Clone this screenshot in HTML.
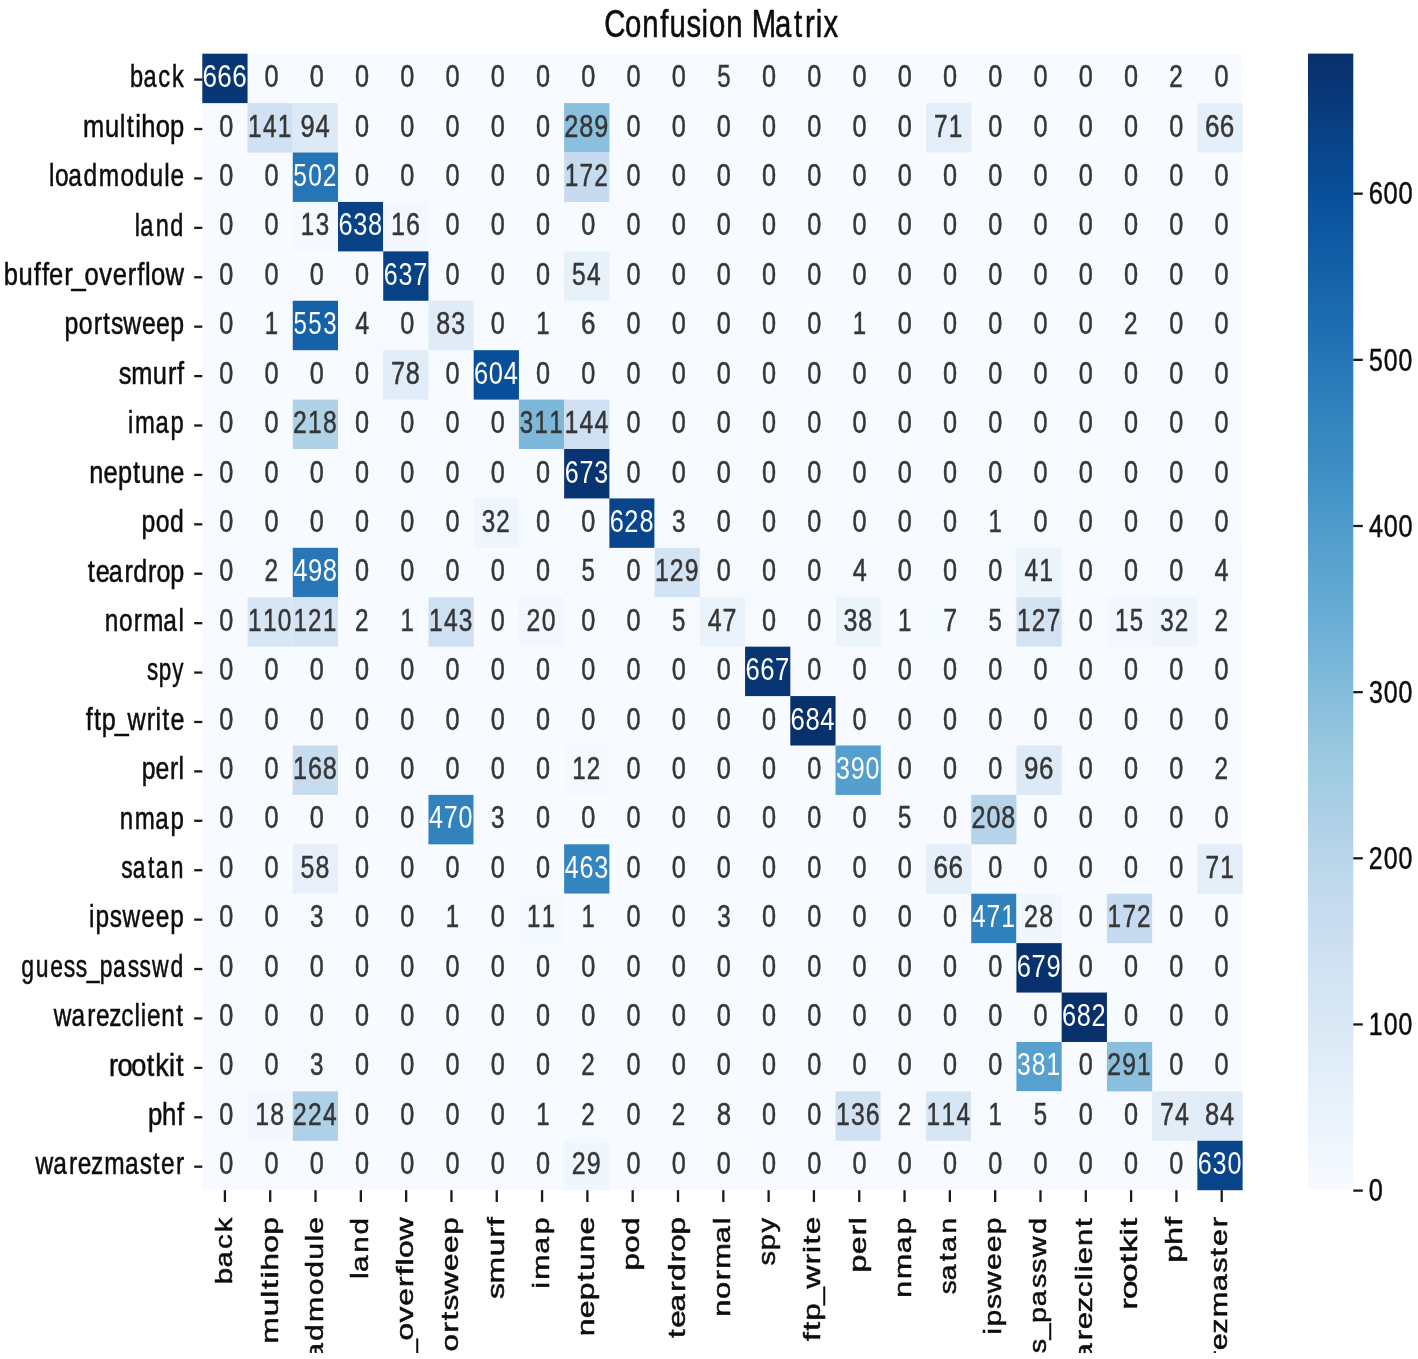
<!DOCTYPE html>
<html><head><meta charset="utf-8"><title>Confusion Matrix</title>
<style>
html,body{margin:0;padding:0;background:#fff;}
body{width:1418px;height:1359px;overflow:hidden;font-family:"Liberation Sans",sans-serif;}
svg{display:block;filter:blur(0.7px);}
</style></head><body>
<svg width="1418" height="1359" viewBox="0 0 1418 1359" font-family="Liberation Sans, sans-serif">
<rect x="0" y="0" width="1418" height="1359" fill="#ffffff"/>
<rect x="202.30" y="53.70" width="1040.30" height="1136.50" fill="#f7fbff"/>
<rect x="202.30" y="53.70" width="45.25" height="49.43" fill="#083674"/>
<rect x="699.83" y="53.70" width="45.25" height="49.43" fill="#f6faff"/>
<rect x="1152.14" y="53.70" width="45.25" height="49.43" fill="#f7fbff"/>
<rect x="247.53" y="103.11" width="45.25" height="49.43" fill="#cfe1f2"/>
<rect x="292.76" y="103.11" width="45.25" height="49.43" fill="#dce9f6"/>
<rect x="564.14" y="103.11" width="45.25" height="49.43" fill="#8abfdd"/>
<rect x="925.99" y="103.11" width="45.25" height="49.43" fill="#e3eef8"/>
<rect x="1197.37" y="103.11" width="45.25" height="49.43" fill="#e4eff9"/>
<rect x="292.76" y="152.53" width="45.25" height="49.43" fill="#2575b7"/>
<rect x="564.14" y="152.53" width="45.25" height="49.43" fill="#c6dbef"/>
<rect x="292.76" y="201.94" width="45.25" height="49.43" fill="#f4f9fe"/>
<rect x="337.99" y="201.94" width="45.25" height="49.43" fill="#084285"/>
<rect x="383.22" y="201.94" width="45.25" height="49.43" fill="#f3f8fe"/>
<rect x="383.22" y="251.35" width="45.25" height="49.43" fill="#084285"/>
<rect x="564.14" y="251.35" width="45.25" height="49.43" fill="#e7f1fa"/>
<rect x="247.53" y="300.77" width="45.25" height="49.43" fill="#f7fbff"/>
<rect x="292.76" y="300.77" width="45.25" height="49.43" fill="#1562a9"/>
<rect x="337.99" y="300.77" width="45.25" height="49.43" fill="#f6faff"/>
<rect x="428.45" y="300.77" width="45.25" height="49.43" fill="#dfebf7"/>
<rect x="518.91" y="300.77" width="45.25" height="49.43" fill="#f7fbff"/>
<rect x="564.14" y="300.77" width="45.25" height="49.43" fill="#f5fafe"/>
<rect x="835.53" y="300.77" width="45.25" height="49.43" fill="#f7fbff"/>
<rect x="1106.91" y="300.77" width="45.25" height="49.43" fill="#f7fbff"/>
<rect x="383.22" y="350.18" width="45.25" height="49.43" fill="#e0ecf8"/>
<rect x="473.68" y="350.18" width="45.25" height="49.43" fill="#084e98"/>
<rect x="292.76" y="399.59" width="45.25" height="49.43" fill="#b0d2e7"/>
<rect x="518.91" y="399.59" width="45.25" height="49.43" fill="#7db8da"/>
<rect x="564.14" y="399.59" width="45.25" height="49.43" fill="#cee0f2"/>
<rect x="564.14" y="449.00" width="45.25" height="49.43" fill="#083471"/>
<rect x="473.68" y="498.42" width="45.25" height="49.43" fill="#eef5fc"/>
<rect x="609.37" y="498.42" width="45.25" height="49.43" fill="#08458a"/>
<rect x="654.60" y="498.42" width="45.25" height="49.43" fill="#f6faff"/>
<rect x="971.22" y="498.42" width="45.25" height="49.43" fill="#f7fbff"/>
<rect x="247.53" y="547.83" width="45.25" height="49.43" fill="#f7fbff"/>
<rect x="292.76" y="547.83" width="45.25" height="49.43" fill="#2676b8"/>
<rect x="564.14" y="547.83" width="45.25" height="49.43" fill="#f6faff"/>
<rect x="654.60" y="547.83" width="45.25" height="49.43" fill="#d2e3f3"/>
<rect x="835.53" y="547.83" width="45.25" height="49.43" fill="#f6faff"/>
<rect x="1016.45" y="547.83" width="45.25" height="49.43" fill="#ebf3fb"/>
<rect x="1197.37" y="547.83" width="45.25" height="49.43" fill="#f6faff"/>
<rect x="247.53" y="597.24" width="45.25" height="49.43" fill="#d7e6f5"/>
<rect x="292.76" y="597.24" width="45.25" height="49.43" fill="#d4e4f4"/>
<rect x="337.99" y="597.24" width="45.25" height="49.43" fill="#f7fbff"/>
<rect x="383.22" y="597.24" width="45.25" height="49.43" fill="#f7fbff"/>
<rect x="428.45" y="597.24" width="45.25" height="49.43" fill="#cee0f2"/>
<rect x="518.91" y="597.24" width="45.25" height="49.43" fill="#f2f7fd"/>
<rect x="654.60" y="597.24" width="45.25" height="49.43" fill="#f6faff"/>
<rect x="699.83" y="597.24" width="45.25" height="49.43" fill="#eaf2fb"/>
<rect x="835.53" y="597.24" width="45.25" height="49.43" fill="#ecf4fb"/>
<rect x="880.76" y="597.24" width="45.25" height="49.43" fill="#f7fbff"/>
<rect x="925.99" y="597.24" width="45.25" height="49.43" fill="#f5fafe"/>
<rect x="971.22" y="597.24" width="45.25" height="49.43" fill="#f6faff"/>
<rect x="1016.45" y="597.24" width="45.25" height="49.43" fill="#d3e3f3"/>
<rect x="1106.91" y="597.24" width="45.25" height="49.43" fill="#f3f8fe"/>
<rect x="1152.14" y="597.24" width="45.25" height="49.43" fill="#eef5fc"/>
<rect x="1197.37" y="597.24" width="45.25" height="49.43" fill="#f7fbff"/>
<rect x="745.07" y="646.66" width="45.25" height="49.43" fill="#083674"/>
<rect x="790.30" y="696.07" width="45.25" height="49.43" fill="#08306b"/>
<rect x="292.76" y="745.48" width="45.25" height="49.43" fill="#c7dcef"/>
<rect x="564.14" y="745.48" width="45.25" height="49.43" fill="#f4f9fe"/>
<rect x="835.53" y="745.48" width="45.25" height="49.43" fill="#549fcd"/>
<rect x="1016.45" y="745.48" width="45.25" height="49.43" fill="#dce9f6"/>
<rect x="1197.37" y="745.48" width="45.25" height="49.43" fill="#f7fbff"/>
<rect x="428.45" y="794.90" width="45.25" height="49.43" fill="#3282be"/>
<rect x="473.68" y="794.90" width="45.25" height="49.43" fill="#f6faff"/>
<rect x="880.76" y="794.90" width="45.25" height="49.43" fill="#f6faff"/>
<rect x="971.22" y="794.90" width="45.25" height="49.43" fill="#b5d4e9"/>
<rect x="292.76" y="844.31" width="45.25" height="49.43" fill="#e7f0fa"/>
<rect x="564.14" y="844.31" width="45.25" height="49.43" fill="#3484bf"/>
<rect x="925.99" y="844.31" width="45.25" height="49.43" fill="#e4eff9"/>
<rect x="1197.37" y="844.31" width="45.25" height="49.43" fill="#e3eef8"/>
<rect x="292.76" y="893.72" width="45.25" height="49.43" fill="#f6faff"/>
<rect x="428.45" y="893.72" width="45.25" height="49.43" fill="#f7fbff"/>
<rect x="518.91" y="893.72" width="45.25" height="49.43" fill="#f4f9fe"/>
<rect x="564.14" y="893.72" width="45.25" height="49.43" fill="#f7fbff"/>
<rect x="699.83" y="893.72" width="45.25" height="49.43" fill="#f6faff"/>
<rect x="971.22" y="893.72" width="45.25" height="49.43" fill="#3181bd"/>
<rect x="1016.45" y="893.72" width="45.25" height="49.43" fill="#eff6fc"/>
<rect x="1106.91" y="893.72" width="45.25" height="49.43" fill="#c6dbef"/>
<rect x="1016.45" y="943.13" width="45.25" height="49.43" fill="#08316d"/>
<rect x="1061.68" y="992.55" width="45.25" height="49.43" fill="#08306b"/>
<rect x="292.76" y="1041.96" width="45.25" height="49.43" fill="#f6faff"/>
<rect x="564.14" y="1041.96" width="45.25" height="49.43" fill="#f7fbff"/>
<rect x="1016.45" y="1041.96" width="45.25" height="49.43" fill="#58a1cf"/>
<rect x="1106.91" y="1041.96" width="45.25" height="49.43" fill="#8abfdd"/>
<rect x="247.53" y="1091.37" width="45.25" height="49.43" fill="#f2f8fd"/>
<rect x="292.76" y="1091.37" width="45.25" height="49.43" fill="#aed1e7"/>
<rect x="518.91" y="1091.37" width="45.25" height="49.43" fill="#f7fbff"/>
<rect x="564.14" y="1091.37" width="45.25" height="49.43" fill="#f7fbff"/>
<rect x="654.60" y="1091.37" width="45.25" height="49.43" fill="#f7fbff"/>
<rect x="699.83" y="1091.37" width="45.25" height="49.43" fill="#f5fafe"/>
<rect x="835.53" y="1091.37" width="45.25" height="49.43" fill="#d0e2f2"/>
<rect x="880.76" y="1091.37" width="45.25" height="49.43" fill="#f7fbff"/>
<rect x="925.99" y="1091.37" width="45.25" height="49.43" fill="#d6e6f4"/>
<rect x="971.22" y="1091.37" width="45.25" height="49.43" fill="#f7fbff"/>
<rect x="1016.45" y="1091.37" width="45.25" height="49.43" fill="#f6faff"/>
<rect x="1152.14" y="1091.37" width="45.25" height="49.43" fill="#e2edf8"/>
<rect x="1197.37" y="1091.37" width="45.25" height="49.43" fill="#dfebf7"/>
<rect x="564.14" y="1140.79" width="45.25" height="49.43" fill="#eff6fc"/>
<rect x="1197.37" y="1140.79" width="45.25" height="49.43" fill="#08458a"/>
<g font-size="31" stroke-width="0.5">
<text transform="translate(202.38 87.21) scale(0.8408 1)" x="0.18 17.81 35.44" fill="#ffffff">666</text>
<text transform="translate(264.23 87.21) scale(0.8145 1)" x="0.40" fill="#363636" stroke="#363636">0</text>
<text transform="translate(309.46 87.21) scale(0.8145 1)" x="0.40" fill="#363636" stroke="#363636">0</text>
<text transform="translate(354.69 87.21) scale(0.8145 1)" x="0.40" fill="#363636" stroke="#363636">0</text>
<text transform="translate(399.92 87.21) scale(0.8145 1)" x="0.40" fill="#363636" stroke="#363636">0</text>
<text transform="translate(445.16 87.21) scale(0.8145 1)" x="0.40" fill="#363636" stroke="#363636">0</text>
<text transform="translate(490.39 87.21) scale(0.8145 1)" x="0.40" fill="#363636" stroke="#363636">0</text>
<text transform="translate(535.62 87.21) scale(0.8145 1)" x="0.40" fill="#363636" stroke="#363636">0</text>
<text transform="translate(580.85 87.21) scale(0.8145 1)" x="0.40" fill="#363636" stroke="#363636">0</text>
<text transform="translate(626.08 87.21) scale(0.8145 1)" x="0.40" fill="#363636" stroke="#363636">0</text>
<text transform="translate(671.31 87.21) scale(0.8145 1)" x="0.40" fill="#363636" stroke="#363636">0</text>
<text transform="translate(716.54 87.21) scale(0.7742 1)" x="0.80" fill="#363636" stroke="#363636">5</text>
<text transform="translate(761.77 87.21) scale(0.8145 1)" x="0.40" fill="#363636" stroke="#363636">0</text>
<text transform="translate(807.00 87.21) scale(0.8145 1)" x="0.40" fill="#363636" stroke="#363636">0</text>
<text transform="translate(852.23 87.21) scale(0.8145 1)" x="0.40" fill="#363636" stroke="#363636">0</text>
<text transform="translate(897.46 87.21) scale(0.8145 1)" x="0.40" fill="#363636" stroke="#363636">0</text>
<text transform="translate(942.69 87.21) scale(0.8145 1)" x="0.40" fill="#363636" stroke="#363636">0</text>
<text transform="translate(987.92 87.21) scale(0.8145 1)" x="0.40" fill="#363636" stroke="#363636">0</text>
<text transform="translate(1033.15 87.21) scale(0.8145 1)" x="0.40" fill="#363636" stroke="#363636">0</text>
<text transform="translate(1078.38 87.21) scale(0.8145 1)" x="0.40" fill="#363636" stroke="#363636">0</text>
<text transform="translate(1123.61 87.21) scale(0.8145 1)" x="0.40" fill="#363636" stroke="#363636">0</text>
<text transform="translate(1168.84 87.21) scale(0.7827 1)" x="0.48" fill="#363636" stroke="#363636">2</text>
<text transform="translate(1214.07 87.21) scale(0.8145 1)" x="0.40" fill="#363636" stroke="#363636">0</text>
<text transform="translate(219.00 136.62) scale(0.8145 1)" x="0.40" fill="#363636" stroke="#363636">0</text>
<text transform="translate(247.61 136.62) scale(0.7882 1)" x="0.61 19.67 38.23" fill="#363636" stroke="#363636">141</text>
<text transform="translate(300.25 136.62) scale(0.8220 1)" x="0.33 18.51" fill="#363636" stroke="#363636">94</text>
<text transform="translate(354.69 136.62) scale(0.8145 1)" x="0.40" fill="#363636" stroke="#363636">0</text>
<text transform="translate(399.92 136.62) scale(0.8145 1)" x="0.40" fill="#363636" stroke="#363636">0</text>
<text transform="translate(445.16 136.62) scale(0.8145 1)" x="0.40" fill="#363636" stroke="#363636">0</text>
<text transform="translate(490.39 136.62) scale(0.8145 1)" x="0.40" fill="#363636" stroke="#363636">0</text>
<text transform="translate(535.62 136.62) scale(0.8145 1)" x="0.40" fill="#363636" stroke="#363636">0</text>
<text transform="translate(564.22 136.62) scale(0.8159 1)" x="0.11 18.56 36.73" fill="#363636" stroke="#363636">289</text>
<text transform="translate(626.08 136.62) scale(0.8145 1)" x="0.40" fill="#363636" stroke="#363636">0</text>
<text transform="translate(671.31 136.62) scale(0.8145 1)" x="0.40" fill="#363636" stroke="#363636">0</text>
<text transform="translate(716.54 136.62) scale(0.8145 1)" x="0.40" fill="#363636" stroke="#363636">0</text>
<text transform="translate(761.77 136.62) scale(0.8145 1)" x="0.40" fill="#363636" stroke="#363636">0</text>
<text transform="translate(807.00 136.62) scale(0.8145 1)" x="0.40" fill="#363636" stroke="#363636">0</text>
<text transform="translate(852.23 136.62) scale(0.8145 1)" x="0.40" fill="#363636" stroke="#363636">0</text>
<text transform="translate(897.46 136.62) scale(0.8145 1)" x="0.40" fill="#363636" stroke="#363636">0</text>
<text transform="translate(933.48 136.62) scale(0.7872 1)" x="0.72 19.46" fill="#363636" stroke="#363636">71</text>
<text transform="translate(987.92 136.62) scale(0.8145 1)" x="0.40" fill="#363636" stroke="#363636">0</text>
<text transform="translate(1033.15 136.62) scale(0.8145 1)" x="0.40" fill="#363636" stroke="#363636">0</text>
<text transform="translate(1078.38 136.62) scale(0.8145 1)" x="0.40" fill="#363636" stroke="#363636">0</text>
<text transform="translate(1123.61 136.62) scale(0.8145 1)" x="0.40" fill="#363636" stroke="#363636">0</text>
<text transform="translate(1168.84 136.62) scale(0.8145 1)" x="0.40" fill="#363636" stroke="#363636">0</text>
<text transform="translate(1204.86 136.62) scale(0.8408 1)" x="0.18 17.81" fill="#363636" stroke="#363636">66</text>
<text transform="translate(219.00 186.03) scale(0.8145 1)" x="0.40" fill="#363636" stroke="#363636">0</text>
<text transform="translate(264.23 186.03) scale(0.8145 1)" x="0.40" fill="#363636" stroke="#363636">0</text>
<text transform="translate(292.84 186.03) scale(0.7906 1)" x="0.61 19.43 37.89" fill="#ffffff">502</text>
<text transform="translate(354.69 186.03) scale(0.8145 1)" x="0.40" fill="#363636" stroke="#363636">0</text>
<text transform="translate(399.92 186.03) scale(0.8145 1)" x="0.40" fill="#363636" stroke="#363636">0</text>
<text transform="translate(445.16 186.03) scale(0.8145 1)" x="0.40" fill="#363636" stroke="#363636">0</text>
<text transform="translate(490.39 186.03) scale(0.8145 1)" x="0.40" fill="#363636" stroke="#363636">0</text>
<text transform="translate(535.62 186.03) scale(0.8145 1)" x="0.40" fill="#363636" stroke="#363636">0</text>
<text transform="translate(564.22 186.03) scale(0.7857 1)" x="0.64 19.61 38.18" fill="#363636" stroke="#363636">172</text>
<text transform="translate(626.08 186.03) scale(0.8145 1)" x="0.40" fill="#363636" stroke="#363636">0</text>
<text transform="translate(671.31 186.03) scale(0.8145 1)" x="0.40" fill="#363636" stroke="#363636">0</text>
<text transform="translate(716.54 186.03) scale(0.8145 1)" x="0.40" fill="#363636" stroke="#363636">0</text>
<text transform="translate(761.77 186.03) scale(0.8145 1)" x="0.40" fill="#363636" stroke="#363636">0</text>
<text transform="translate(807.00 186.03) scale(0.8145 1)" x="0.40" fill="#363636" stroke="#363636">0</text>
<text transform="translate(852.23 186.03) scale(0.8145 1)" x="0.40" fill="#363636" stroke="#363636">0</text>
<text transform="translate(897.46 186.03) scale(0.8145 1)" x="0.40" fill="#363636" stroke="#363636">0</text>
<text transform="translate(942.69 186.03) scale(0.8145 1)" x="0.40" fill="#363636" stroke="#363636">0</text>
<text transform="translate(987.92 186.03) scale(0.8145 1)" x="0.40" fill="#363636" stroke="#363636">0</text>
<text transform="translate(1033.15 186.03) scale(0.8145 1)" x="0.40" fill="#363636" stroke="#363636">0</text>
<text transform="translate(1078.38 186.03) scale(0.8145 1)" x="0.40" fill="#363636" stroke="#363636">0</text>
<text transform="translate(1123.61 186.03) scale(0.8145 1)" x="0.40" fill="#363636" stroke="#363636">0</text>
<text transform="translate(1168.84 186.03) scale(0.8145 1)" x="0.40" fill="#363636" stroke="#363636">0</text>
<text transform="translate(1214.07 186.03) scale(0.8145 1)" x="0.40" fill="#363636" stroke="#363636">0</text>
<text transform="translate(219.00 235.45) scale(0.8145 1)" x="0.40" fill="#363636" stroke="#363636">0</text>
<text transform="translate(264.23 235.45) scale(0.8145 1)" x="0.40" fill="#363636" stroke="#363636">0</text>
<text transform="translate(300.25 235.45) scale(0.7784 1)" x="0.74 19.87" fill="#363636" stroke="#363636">13</text>
<text transform="translate(338.07 235.45) scale(0.8181 1)" x="0.43 18.49 36.60" fill="#ffffff">638</text>
<text transform="translate(390.71 235.45) scale(0.8086 1)" x="0.37 18.87" fill="#363636" stroke="#363636">16</text>
<text transform="translate(445.16 235.45) scale(0.8145 1)" x="0.40" fill="#363636" stroke="#363636">0</text>
<text transform="translate(490.39 235.45) scale(0.8145 1)" x="0.40" fill="#363636" stroke="#363636">0</text>
<text transform="translate(535.62 235.45) scale(0.8145 1)" x="0.40" fill="#363636" stroke="#363636">0</text>
<text transform="translate(580.85 235.45) scale(0.8145 1)" x="0.40" fill="#363636" stroke="#363636">0</text>
<text transform="translate(626.08 235.45) scale(0.8145 1)" x="0.40" fill="#363636" stroke="#363636">0</text>
<text transform="translate(671.31 235.45) scale(0.8145 1)" x="0.40" fill="#363636" stroke="#363636">0</text>
<text transform="translate(716.54 235.45) scale(0.8145 1)" x="0.40" fill="#363636" stroke="#363636">0</text>
<text transform="translate(761.77 235.45) scale(0.8145 1)" x="0.40" fill="#363636" stroke="#363636">0</text>
<text transform="translate(807.00 235.45) scale(0.8145 1)" x="0.40" fill="#363636" stroke="#363636">0</text>
<text transform="translate(852.23 235.45) scale(0.8145 1)" x="0.40" fill="#363636" stroke="#363636">0</text>
<text transform="translate(897.46 235.45) scale(0.8145 1)" x="0.40" fill="#363636" stroke="#363636">0</text>
<text transform="translate(942.69 235.45) scale(0.8145 1)" x="0.40" fill="#363636" stroke="#363636">0</text>
<text transform="translate(987.92 235.45) scale(0.8145 1)" x="0.40" fill="#363636" stroke="#363636">0</text>
<text transform="translate(1033.15 235.45) scale(0.8145 1)" x="0.40" fill="#363636" stroke="#363636">0</text>
<text transform="translate(1078.38 235.45) scale(0.8145 1)" x="0.40" fill="#363636" stroke="#363636">0</text>
<text transform="translate(1123.61 235.45) scale(0.8145 1)" x="0.40" fill="#363636" stroke="#363636">0</text>
<text transform="translate(1168.84 235.45) scale(0.8145 1)" x="0.40" fill="#363636" stroke="#363636">0</text>
<text transform="translate(1214.07 235.45) scale(0.8145 1)" x="0.40" fill="#363636" stroke="#363636">0</text>
<text transform="translate(219.00 284.86) scale(0.8145 1)" x="0.40" fill="#363636" stroke="#363636">0</text>
<text transform="translate(264.23 284.86) scale(0.8145 1)" x="0.40" fill="#363636" stroke="#363636">0</text>
<text transform="translate(309.46 284.86) scale(0.8145 1)" x="0.40" fill="#363636" stroke="#363636">0</text>
<text transform="translate(354.69 284.86) scale(0.8145 1)" x="0.40" fill="#363636" stroke="#363636">0</text>
<text transform="translate(383.30 284.86) scale(0.8075 1)" x="0.55 18.85 37.21" fill="#ffffff">637</text>
<text transform="translate(445.16 284.86) scale(0.8145 1)" x="0.40" fill="#363636" stroke="#363636">0</text>
<text transform="translate(490.39 284.86) scale(0.8145 1)" x="0.40" fill="#363636" stroke="#363636">0</text>
<text transform="translate(535.62 284.86) scale(0.8145 1)" x="0.40" fill="#363636" stroke="#363636">0</text>
<text transform="translate(571.63 284.86) scale(0.7939 1)" x="0.57 19.47" fill="#363636" stroke="#363636">54</text>
<text transform="translate(626.08 284.86) scale(0.8145 1)" x="0.40" fill="#363636" stroke="#363636">0</text>
<text transform="translate(671.31 284.86) scale(0.8145 1)" x="0.40" fill="#363636" stroke="#363636">0</text>
<text transform="translate(716.54 284.86) scale(0.8145 1)" x="0.40" fill="#363636" stroke="#363636">0</text>
<text transform="translate(761.77 284.86) scale(0.8145 1)" x="0.40" fill="#363636" stroke="#363636">0</text>
<text transform="translate(807.00 284.86) scale(0.8145 1)" x="0.40" fill="#363636" stroke="#363636">0</text>
<text transform="translate(852.23 284.86) scale(0.8145 1)" x="0.40" fill="#363636" stroke="#363636">0</text>
<text transform="translate(897.46 284.86) scale(0.8145 1)" x="0.40" fill="#363636" stroke="#363636">0</text>
<text transform="translate(942.69 284.86) scale(0.8145 1)" x="0.40" fill="#363636" stroke="#363636">0</text>
<text transform="translate(987.92 284.86) scale(0.8145 1)" x="0.40" fill="#363636" stroke="#363636">0</text>
<text transform="translate(1033.15 284.86) scale(0.8145 1)" x="0.40" fill="#363636" stroke="#363636">0</text>
<text transform="translate(1078.38 284.86) scale(0.8145 1)" x="0.40" fill="#363636" stroke="#363636">0</text>
<text transform="translate(1123.61 284.86) scale(0.8145 1)" x="0.40" fill="#363636" stroke="#363636">0</text>
<text transform="translate(1168.84 284.86) scale(0.8145 1)" x="0.40" fill="#363636" stroke="#363636">0</text>
<text transform="translate(1214.07 284.86) scale(0.8145 1)" x="0.40" fill="#363636" stroke="#363636">0</text>
<text transform="translate(219.00 334.27) scale(0.8145 1)" x="0.40" fill="#363636" stroke="#363636">0</text>
<text transform="translate(264.23 334.27) scale(0.7742 1)" x="0.79" fill="#363636" stroke="#363636">1</text>
<text transform="translate(292.84 334.27) scale(0.7769 1)" x="0.77 19.85 39.01" fill="#ffffff">553</text>
<text transform="translate(354.69 334.27) scale(0.8125 1)" x="0.59" fill="#363636" stroke="#363636">4</text>
<text transform="translate(399.92 334.27) scale(0.8145 1)" x="0.40" fill="#363636" stroke="#363636">0</text>
<text transform="translate(435.94 334.27) scale(0.8069 1)" x="0.49 18.86" fill="#363636" stroke="#363636">83</text>
<text transform="translate(490.39 334.27) scale(0.8145 1)" x="0.40" fill="#363636" stroke="#363636">0</text>
<text transform="translate(535.62 334.27) scale(0.7742 1)" x="0.79" fill="#363636" stroke="#363636">1</text>
<text transform="translate(580.85 334.27) scale(0.8408 1)" x="0.18" fill="#363636" stroke="#363636">6</text>
<text transform="translate(626.08 334.27) scale(0.8145 1)" x="0.40" fill="#363636" stroke="#363636">0</text>
<text transform="translate(671.31 334.27) scale(0.8145 1)" x="0.40" fill="#363636" stroke="#363636">0</text>
<text transform="translate(716.54 334.27) scale(0.8145 1)" x="0.40" fill="#363636" stroke="#363636">0</text>
<text transform="translate(761.77 334.27) scale(0.8145 1)" x="0.40" fill="#363636" stroke="#363636">0</text>
<text transform="translate(807.00 334.27) scale(0.8145 1)" x="0.40" fill="#363636" stroke="#363636">0</text>
<text transform="translate(852.23 334.27) scale(0.7742 1)" x="0.79" fill="#363636" stroke="#363636">1</text>
<text transform="translate(897.46 334.27) scale(0.8145 1)" x="0.40" fill="#363636" stroke="#363636">0</text>
<text transform="translate(942.69 334.27) scale(0.8145 1)" x="0.40" fill="#363636" stroke="#363636">0</text>
<text transform="translate(987.92 334.27) scale(0.8145 1)" x="0.40" fill="#363636" stroke="#363636">0</text>
<text transform="translate(1033.15 334.27) scale(0.8145 1)" x="0.40" fill="#363636" stroke="#363636">0</text>
<text transform="translate(1078.38 334.27) scale(0.8145 1)" x="0.40" fill="#363636" stroke="#363636">0</text>
<text transform="translate(1123.61 334.27) scale(0.7827 1)" x="0.48" fill="#363636" stroke="#363636">2</text>
<text transform="translate(1168.84 334.27) scale(0.8145 1)" x="0.40" fill="#363636" stroke="#363636">0</text>
<text transform="translate(1214.07 334.27) scale(0.8145 1)" x="0.40" fill="#363636" stroke="#363636">0</text>
<text transform="translate(219.00 383.68) scale(0.8145 1)" x="0.40" fill="#363636" stroke="#363636">0</text>
<text transform="translate(264.23 383.68) scale(0.8145 1)" x="0.40" fill="#363636" stroke="#363636">0</text>
<text transform="translate(309.46 383.68) scale(0.8145 1)" x="0.40" fill="#363636" stroke="#363636">0</text>
<text transform="translate(354.69 383.68) scale(0.8145 1)" x="0.40" fill="#363636" stroke="#363636">0</text>
<text transform="translate(390.71 383.68) scale(0.8160 1)" x="0.39 18.55" fill="#363636" stroke="#363636">78</text>
<text transform="translate(445.16 383.68) scale(0.8145 1)" x="0.40" fill="#363636" stroke="#363636">0</text>
<text transform="translate(473.76 383.68) scale(0.8222 1)" x="0.38 18.35 36.54" fill="#ffffff">604</text>
<text transform="translate(535.62 383.68) scale(0.8145 1)" x="0.40" fill="#363636" stroke="#363636">0</text>
<text transform="translate(580.85 383.68) scale(0.8145 1)" x="0.40" fill="#363636" stroke="#363636">0</text>
<text transform="translate(626.08 383.68) scale(0.8145 1)" x="0.40" fill="#363636" stroke="#363636">0</text>
<text transform="translate(671.31 383.68) scale(0.8145 1)" x="0.40" fill="#363636" stroke="#363636">0</text>
<text transform="translate(716.54 383.68) scale(0.8145 1)" x="0.40" fill="#363636" stroke="#363636">0</text>
<text transform="translate(761.77 383.68) scale(0.8145 1)" x="0.40" fill="#363636" stroke="#363636">0</text>
<text transform="translate(807.00 383.68) scale(0.8145 1)" x="0.40" fill="#363636" stroke="#363636">0</text>
<text transform="translate(852.23 383.68) scale(0.8145 1)" x="0.40" fill="#363636" stroke="#363636">0</text>
<text transform="translate(897.46 383.68) scale(0.8145 1)" x="0.40" fill="#363636" stroke="#363636">0</text>
<text transform="translate(942.69 383.68) scale(0.8145 1)" x="0.40" fill="#363636" stroke="#363636">0</text>
<text transform="translate(987.92 383.68) scale(0.8145 1)" x="0.40" fill="#363636" stroke="#363636">0</text>
<text transform="translate(1033.15 383.68) scale(0.8145 1)" x="0.40" fill="#363636" stroke="#363636">0</text>
<text transform="translate(1078.38 383.68) scale(0.8145 1)" x="0.40" fill="#363636" stroke="#363636">0</text>
<text transform="translate(1123.61 383.68) scale(0.8145 1)" x="0.40" fill="#363636" stroke="#363636">0</text>
<text transform="translate(1168.84 383.68) scale(0.8145 1)" x="0.40" fill="#363636" stroke="#363636">0</text>
<text transform="translate(1214.07 383.68) scale(0.8145 1)" x="0.40" fill="#363636" stroke="#363636">0</text>
<text transform="translate(219.00 433.10) scale(0.8145 1)" x="0.40" fill="#363636" stroke="#363636">0</text>
<text transform="translate(264.23 433.10) scale(0.8145 1)" x="0.40" fill="#363636" stroke="#363636">0</text>
<text transform="translate(292.84 433.10) scale(0.7969 1)" x="0.31 19.11 37.81" fill="#363636" stroke="#363636">218</text>
<text transform="translate(354.69 433.10) scale(0.8145 1)" x="0.40" fill="#363636" stroke="#363636">0</text>
<text transform="translate(399.92 433.10) scale(0.8145 1)" x="0.40" fill="#363636" stroke="#363636">0</text>
<text transform="translate(445.16 433.10) scale(0.8145 1)" x="0.40" fill="#363636" stroke="#363636">0</text>
<text transform="translate(490.39 433.10) scale(0.8145 1)" x="0.40" fill="#363636" stroke="#363636">0</text>
<text transform="translate(518.99 433.10) scale(0.7770 1)" x="0.84 19.83 38.91" fill="#363636" stroke="#363636">311</text>
<text transform="translate(564.22 433.10) scale(0.8009 1)" x="0.46 19.22 37.73" fill="#363636" stroke="#363636">144</text>
<text transform="translate(626.08 433.10) scale(0.8145 1)" x="0.40" fill="#363636" stroke="#363636">0</text>
<text transform="translate(671.31 433.10) scale(0.8145 1)" x="0.40" fill="#363636" stroke="#363636">0</text>
<text transform="translate(716.54 433.10) scale(0.8145 1)" x="0.40" fill="#363636" stroke="#363636">0</text>
<text transform="translate(761.77 433.10) scale(0.8145 1)" x="0.40" fill="#363636" stroke="#363636">0</text>
<text transform="translate(807.00 433.10) scale(0.8145 1)" x="0.40" fill="#363636" stroke="#363636">0</text>
<text transform="translate(852.23 433.10) scale(0.8145 1)" x="0.40" fill="#363636" stroke="#363636">0</text>
<text transform="translate(897.46 433.10) scale(0.8145 1)" x="0.40" fill="#363636" stroke="#363636">0</text>
<text transform="translate(942.69 433.10) scale(0.8145 1)" x="0.40" fill="#363636" stroke="#363636">0</text>
<text transform="translate(987.92 433.10) scale(0.8145 1)" x="0.40" fill="#363636" stroke="#363636">0</text>
<text transform="translate(1033.15 433.10) scale(0.8145 1)" x="0.40" fill="#363636" stroke="#363636">0</text>
<text transform="translate(1078.38 433.10) scale(0.8145 1)" x="0.40" fill="#363636" stroke="#363636">0</text>
<text transform="translate(1123.61 433.10) scale(0.8145 1)" x="0.40" fill="#363636" stroke="#363636">0</text>
<text transform="translate(1168.84 433.10) scale(0.8145 1)" x="0.40" fill="#363636" stroke="#363636">0</text>
<text transform="translate(1214.07 433.10) scale(0.8145 1)" x="0.40" fill="#363636" stroke="#363636">0</text>
<text transform="translate(219.00 482.51) scale(0.8145 1)" x="0.40" fill="#363636" stroke="#363636">0</text>
<text transform="translate(264.23 482.51) scale(0.8145 1)" x="0.40" fill="#363636" stroke="#363636">0</text>
<text transform="translate(309.46 482.51) scale(0.8145 1)" x="0.40" fill="#363636" stroke="#363636">0</text>
<text transform="translate(354.69 482.51) scale(0.8145 1)" x="0.40" fill="#363636" stroke="#363636">0</text>
<text transform="translate(399.92 482.51) scale(0.8145 1)" x="0.40" fill="#363636" stroke="#363636">0</text>
<text transform="translate(445.16 482.51) scale(0.8145 1)" x="0.40" fill="#363636" stroke="#363636">0</text>
<text transform="translate(490.39 482.51) scale(0.8145 1)" x="0.40" fill="#363636" stroke="#363636">0</text>
<text transform="translate(535.62 482.51) scale(0.8145 1)" x="0.40" fill="#363636" stroke="#363636">0</text>
<text transform="translate(564.22 482.51) scale(0.8075 1)" x="0.55 18.85 37.21" fill="#ffffff">673</text>
<text transform="translate(626.08 482.51) scale(0.8145 1)" x="0.40" fill="#363636" stroke="#363636">0</text>
<text transform="translate(671.31 482.51) scale(0.8145 1)" x="0.40" fill="#363636" stroke="#363636">0</text>
<text transform="translate(716.54 482.51) scale(0.8145 1)" x="0.40" fill="#363636" stroke="#363636">0</text>
<text transform="translate(761.77 482.51) scale(0.8145 1)" x="0.40" fill="#363636" stroke="#363636">0</text>
<text transform="translate(807.00 482.51) scale(0.8145 1)" x="0.40" fill="#363636" stroke="#363636">0</text>
<text transform="translate(852.23 482.51) scale(0.8145 1)" x="0.40" fill="#363636" stroke="#363636">0</text>
<text transform="translate(897.46 482.51) scale(0.8145 1)" x="0.40" fill="#363636" stroke="#363636">0</text>
<text transform="translate(942.69 482.51) scale(0.8145 1)" x="0.40" fill="#363636" stroke="#363636">0</text>
<text transform="translate(987.92 482.51) scale(0.8145 1)" x="0.40" fill="#363636" stroke="#363636">0</text>
<text transform="translate(1033.15 482.51) scale(0.8145 1)" x="0.40" fill="#363636" stroke="#363636">0</text>
<text transform="translate(1078.38 482.51) scale(0.8145 1)" x="0.40" fill="#363636" stroke="#363636">0</text>
<text transform="translate(1123.61 482.51) scale(0.8145 1)" x="0.40" fill="#363636" stroke="#363636">0</text>
<text transform="translate(1168.84 482.51) scale(0.8145 1)" x="0.40" fill="#363636" stroke="#363636">0</text>
<text transform="translate(1214.07 482.51) scale(0.8145 1)" x="0.40" fill="#363636" stroke="#363636">0</text>
<text transform="translate(219.00 531.92) scale(0.8145 1)" x="0.40" fill="#363636" stroke="#363636">0</text>
<text transform="translate(264.23 531.92) scale(0.8145 1)" x="0.40" fill="#363636" stroke="#363636">0</text>
<text transform="translate(309.46 531.92) scale(0.8145 1)" x="0.40" fill="#363636" stroke="#363636">0</text>
<text transform="translate(354.69 531.92) scale(0.8145 1)" x="0.40" fill="#363636" stroke="#363636">0</text>
<text transform="translate(399.92 531.92) scale(0.8145 1)" x="0.40" fill="#363636" stroke="#363636">0</text>
<text transform="translate(445.16 531.92) scale(0.8145 1)" x="0.40" fill="#363636" stroke="#363636">0</text>
<text transform="translate(481.17 531.92) scale(0.7825 1)" x="0.78 19.42" fill="#363636" stroke="#363636">32</text>
<text transform="translate(535.62 531.92) scale(0.8145 1)" x="0.40" fill="#363636" stroke="#363636">0</text>
<text transform="translate(580.85 531.92) scale(0.8145 1)" x="0.40" fill="#363636" stroke="#363636">0</text>
<text transform="translate(609.45 531.92) scale(0.8187 1)" x="0.42 18.18 36.57" fill="#ffffff">628</text>
<text transform="translate(671.31 531.92) scale(0.7823 1)" x="0.78" fill="#363636" stroke="#363636">3</text>
<text transform="translate(716.54 531.92) scale(0.8145 1)" x="0.40" fill="#363636" stroke="#363636">0</text>
<text transform="translate(761.77 531.92) scale(0.8145 1)" x="0.40" fill="#363636" stroke="#363636">0</text>
<text transform="translate(807.00 531.92) scale(0.8145 1)" x="0.40" fill="#363636" stroke="#363636">0</text>
<text transform="translate(852.23 531.92) scale(0.8145 1)" x="0.40" fill="#363636" stroke="#363636">0</text>
<text transform="translate(897.46 531.92) scale(0.8145 1)" x="0.40" fill="#363636" stroke="#363636">0</text>
<text transform="translate(942.69 531.92) scale(0.8145 1)" x="0.40" fill="#363636" stroke="#363636">0</text>
<text transform="translate(987.92 531.92) scale(0.7742 1)" x="0.79" fill="#363636" stroke="#363636">1</text>
<text transform="translate(1033.15 531.92) scale(0.8145 1)" x="0.40" fill="#363636" stroke="#363636">0</text>
<text transform="translate(1078.38 531.92) scale(0.8145 1)" x="0.40" fill="#363636" stroke="#363636">0</text>
<text transform="translate(1123.61 531.92) scale(0.8145 1)" x="0.40" fill="#363636" stroke="#363636">0</text>
<text transform="translate(1168.84 531.92) scale(0.8145 1)" x="0.40" fill="#363636" stroke="#363636">0</text>
<text transform="translate(1214.07 531.92) scale(0.8145 1)" x="0.40" fill="#363636" stroke="#363636">0</text>
<text transform="translate(219.00 581.34) scale(0.8145 1)" x="0.40" fill="#363636" stroke="#363636">0</text>
<text transform="translate(264.23 581.34) scale(0.7827 1)" x="0.48" fill="#363636" stroke="#363636">2</text>
<text transform="translate(292.84 581.34) scale(0.8252 1)" x="0.45 18.26 36.21" fill="#ffffff">498</text>
<text transform="translate(354.69 581.34) scale(0.8145 1)" x="0.40" fill="#363636" stroke="#363636">0</text>
<text transform="translate(399.92 581.34) scale(0.8145 1)" x="0.40" fill="#363636" stroke="#363636">0</text>
<text transform="translate(445.16 581.34) scale(0.8145 1)" x="0.40" fill="#363636" stroke="#363636">0</text>
<text transform="translate(490.39 581.34) scale(0.8145 1)" x="0.40" fill="#363636" stroke="#363636">0</text>
<text transform="translate(535.62 581.34) scale(0.8145 1)" x="0.40" fill="#363636" stroke="#363636">0</text>
<text transform="translate(580.85 581.34) scale(0.7742 1)" x="0.80" fill="#363636" stroke="#363636">5</text>
<text transform="translate(626.08 581.34) scale(0.8145 1)" x="0.40" fill="#363636" stroke="#363636">0</text>
<text transform="translate(654.68 581.34) scale(0.7970 1)" x="0.51 18.91 37.81" fill="#363636" stroke="#363636">129</text>
<text transform="translate(716.54 581.34) scale(0.8145 1)" x="0.40" fill="#363636" stroke="#363636">0</text>
<text transform="translate(761.77 581.34) scale(0.8145 1)" x="0.40" fill="#363636" stroke="#363636">0</text>
<text transform="translate(807.00 581.34) scale(0.8145 1)" x="0.40" fill="#363636" stroke="#363636">0</text>
<text transform="translate(852.23 581.34) scale(0.8125 1)" x="0.59" fill="#363636" stroke="#363636">4</text>
<text transform="translate(897.46 581.34) scale(0.8145 1)" x="0.40" fill="#363636" stroke="#363636">0</text>
<text transform="translate(942.69 581.34) scale(0.8145 1)" x="0.40" fill="#363636" stroke="#363636">0</text>
<text transform="translate(987.92 581.34) scale(0.8145 1)" x="0.40" fill="#363636" stroke="#363636">0</text>
<text transform="translate(1023.94 581.34) scale(0.7948 1)" x="0.79 19.19" fill="#363636" stroke="#363636">41</text>
<text transform="translate(1078.38 581.34) scale(0.8145 1)" x="0.40" fill="#363636" stroke="#363636">0</text>
<text transform="translate(1123.61 581.34) scale(0.8145 1)" x="0.40" fill="#363636" stroke="#363636">0</text>
<text transform="translate(1168.84 581.34) scale(0.8145 1)" x="0.40" fill="#363636" stroke="#363636">0</text>
<text transform="translate(1214.07 581.34) scale(0.8125 1)" x="0.59" fill="#363636" stroke="#363636">4</text>
<text transform="translate(219.00 630.75) scale(0.8145 1)" x="0.40" fill="#363636" stroke="#363636">0</text>
<text transform="translate(247.61 630.75) scale(0.7885 1)" x="0.61 19.41 38.30" fill="#363636" stroke="#363636">110</text>
<text transform="translate(292.84 630.75) scale(0.7771 1)" x="0.75 19.62 38.91" fill="#363636" stroke="#363636">121</text>
<text transform="translate(354.69 630.75) scale(0.7827 1)" x="0.48" fill="#363636" stroke="#363636">2</text>
<text transform="translate(399.92 630.75) scale(0.7742 1)" x="0.79" fill="#363636" stroke="#363636">1</text>
<text transform="translate(428.53 630.75) scale(0.7906 1)" x="0.58 19.59 38.18" fill="#363636" stroke="#363636">143</text>
<text transform="translate(490.39 630.75) scale(0.8145 1)" x="0.40" fill="#363636" stroke="#363636">0</text>
<text transform="translate(526.40 630.75) scale(0.7990 1)" x="0.29 19.13" fill="#363636" stroke="#363636">20</text>
<text transform="translate(580.85 630.75) scale(0.8145 1)" x="0.40" fill="#363636" stroke="#363636">0</text>
<text transform="translate(626.08 630.75) scale(0.8145 1)" x="0.40" fill="#363636" stroke="#363636">0</text>
<text transform="translate(671.31 630.75) scale(0.7742 1)" x="0.80" fill="#363636" stroke="#363636">5</text>
<text transform="translate(707.33 630.75) scale(0.8064 1)" x="0.65 18.88" fill="#363636" stroke="#363636">47</text>
<text transform="translate(761.77 630.75) scale(0.8145 1)" x="0.40" fill="#363636" stroke="#363636">0</text>
<text transform="translate(807.00 630.75) scale(0.8145 1)" x="0.40" fill="#363636" stroke="#363636">0</text>
<text transform="translate(843.02 630.75) scale(0.8069 1)" x="0.49 18.86" fill="#363636" stroke="#363636">38</text>
<text transform="translate(897.46 630.75) scale(0.7742 1)" x="0.79" fill="#363636" stroke="#363636">1</text>
<text transform="translate(942.69 630.75) scale(0.7997 1)" x="0.58" fill="#363636" stroke="#363636">7</text>
<text transform="translate(987.92 630.75) scale(0.7742 1)" x="0.80" fill="#363636" stroke="#363636">5</text>
<text transform="translate(1016.53 630.75) scale(0.7857 1)" x="0.64 19.31 38.48" fill="#363636" stroke="#363636">127</text>
<text transform="translate(1078.38 630.75) scale(0.8145 1)" x="0.40" fill="#363636" stroke="#363636">0</text>
<text transform="translate(1114.40 630.75) scale(0.7742 1)" x="0.79 19.95" fill="#363636" stroke="#363636">15</text>
<text transform="translate(1159.63 630.75) scale(0.7825 1)" x="0.78 19.42" fill="#363636" stroke="#363636">32</text>
<text transform="translate(1214.07 630.75) scale(0.7827 1)" x="0.48" fill="#363636" stroke="#363636">2</text>
<text transform="translate(219.00 680.16) scale(0.8145 1)" x="0.40" fill="#363636" stroke="#363636">0</text>
<text transform="translate(264.23 680.16) scale(0.8145 1)" x="0.40" fill="#363636" stroke="#363636">0</text>
<text transform="translate(309.46 680.16) scale(0.8145 1)" x="0.40" fill="#363636" stroke="#363636">0</text>
<text transform="translate(354.69 680.16) scale(0.8145 1)" x="0.40" fill="#363636" stroke="#363636">0</text>
<text transform="translate(399.92 680.16) scale(0.8145 1)" x="0.40" fill="#363636" stroke="#363636">0</text>
<text transform="translate(445.16 680.16) scale(0.8145 1)" x="0.40" fill="#363636" stroke="#363636">0</text>
<text transform="translate(490.39 680.16) scale(0.8145 1)" x="0.40" fill="#363636" stroke="#363636">0</text>
<text transform="translate(535.62 680.16) scale(0.8145 1)" x="0.40" fill="#363636" stroke="#363636">0</text>
<text transform="translate(580.85 680.16) scale(0.8145 1)" x="0.40" fill="#363636" stroke="#363636">0</text>
<text transform="translate(626.08 680.16) scale(0.8145 1)" x="0.40" fill="#363636" stroke="#363636">0</text>
<text transform="translate(671.31 680.16) scale(0.8145 1)" x="0.40" fill="#363636" stroke="#363636">0</text>
<text transform="translate(716.54 680.16) scale(0.8145 1)" x="0.40" fill="#363636" stroke="#363636">0</text>
<text transform="translate(745.14 680.16) scale(0.8273 1)" x="0.33 18.25 36.11" fill="#ffffff">667</text>
<text transform="translate(807.00 680.16) scale(0.8145 1)" x="0.40" fill="#363636" stroke="#363636">0</text>
<text transform="translate(852.23 680.16) scale(0.8145 1)" x="0.40" fill="#363636" stroke="#363636">0</text>
<text transform="translate(897.46 680.16) scale(0.8145 1)" x="0.40" fill="#363636" stroke="#363636">0</text>
<text transform="translate(942.69 680.16) scale(0.8145 1)" x="0.40" fill="#363636" stroke="#363636">0</text>
<text transform="translate(987.92 680.16) scale(0.8145 1)" x="0.40" fill="#363636" stroke="#363636">0</text>
<text transform="translate(1033.15 680.16) scale(0.8145 1)" x="0.40" fill="#363636" stroke="#363636">0</text>
<text transform="translate(1078.38 680.16) scale(0.8145 1)" x="0.40" fill="#363636" stroke="#363636">0</text>
<text transform="translate(1123.61 680.16) scale(0.8145 1)" x="0.40" fill="#363636" stroke="#363636">0</text>
<text transform="translate(1168.84 680.16) scale(0.8145 1)" x="0.40" fill="#363636" stroke="#363636">0</text>
<text transform="translate(1214.07 680.16) scale(0.8145 1)" x="0.40" fill="#363636" stroke="#363636">0</text>
<text transform="translate(219.00 729.58) scale(0.8145 1)" x="0.40" fill="#363636" stroke="#363636">0</text>
<text transform="translate(264.23 729.58) scale(0.8145 1)" x="0.40" fill="#363636" stroke="#363636">0</text>
<text transform="translate(309.46 729.58) scale(0.8145 1)" x="0.40" fill="#363636" stroke="#363636">0</text>
<text transform="translate(354.69 729.58) scale(0.8145 1)" x="0.40" fill="#363636" stroke="#363636">0</text>
<text transform="translate(399.92 729.58) scale(0.8145 1)" x="0.40" fill="#363636" stroke="#363636">0</text>
<text transform="translate(445.16 729.58) scale(0.8145 1)" x="0.40" fill="#363636" stroke="#363636">0</text>
<text transform="translate(490.39 729.58) scale(0.8145 1)" x="0.40" fill="#363636" stroke="#363636">0</text>
<text transform="translate(535.62 729.58) scale(0.8145 1)" x="0.40" fill="#363636" stroke="#363636">0</text>
<text transform="translate(580.85 729.58) scale(0.8145 1)" x="0.40" fill="#363636" stroke="#363636">0</text>
<text transform="translate(626.08 729.58) scale(0.8145 1)" x="0.40" fill="#363636" stroke="#363636">0</text>
<text transform="translate(671.31 729.58) scale(0.8145 1)" x="0.40" fill="#363636" stroke="#363636">0</text>
<text transform="translate(716.54 729.58) scale(0.8145 1)" x="0.40" fill="#363636" stroke="#363636">0</text>
<text transform="translate(761.77 729.58) scale(0.8145 1)" x="0.40" fill="#363636" stroke="#363636">0</text>
<text transform="translate(790.37 729.58) scale(0.8279 1)" x="0.32 18.16 36.23" fill="#ffffff">684</text>
<text transform="translate(852.23 729.58) scale(0.8145 1)" x="0.40" fill="#363636" stroke="#363636">0</text>
<text transform="translate(897.46 729.58) scale(0.8145 1)" x="0.40" fill="#363636" stroke="#363636">0</text>
<text transform="translate(942.69 729.58) scale(0.8145 1)" x="0.40" fill="#363636" stroke="#363636">0</text>
<text transform="translate(987.92 729.58) scale(0.8145 1)" x="0.40" fill="#363636" stroke="#363636">0</text>
<text transform="translate(1033.15 729.58) scale(0.8145 1)" x="0.40" fill="#363636" stroke="#363636">0</text>
<text transform="translate(1078.38 729.58) scale(0.8145 1)" x="0.40" fill="#363636" stroke="#363636">0</text>
<text transform="translate(1123.61 729.58) scale(0.8145 1)" x="0.40" fill="#363636" stroke="#363636">0</text>
<text transform="translate(1168.84 729.58) scale(0.8145 1)" x="0.40" fill="#363636" stroke="#363636">0</text>
<text transform="translate(1214.07 729.58) scale(0.8145 1)" x="0.40" fill="#363636" stroke="#363636">0</text>
<text transform="translate(219.00 778.99) scale(0.8145 1)" x="0.40" fill="#363636" stroke="#363636">0</text>
<text transform="translate(264.23 778.99) scale(0.8145 1)" x="0.40" fill="#363636" stroke="#363636">0</text>
<text transform="translate(292.84 778.99) scale(0.8165 1)" x="0.28 18.60 36.69" fill="#363636" stroke="#363636">168</text>
<text transform="translate(354.69 778.99) scale(0.8145 1)" x="0.40" fill="#363636" stroke="#363636">0</text>
<text transform="translate(399.92 778.99) scale(0.8145 1)" x="0.40" fill="#363636" stroke="#363636">0</text>
<text transform="translate(445.16 778.99) scale(0.8145 1)" x="0.40" fill="#363636" stroke="#363636">0</text>
<text transform="translate(490.39 778.99) scale(0.8145 1)" x="0.40" fill="#363636" stroke="#363636">0</text>
<text transform="translate(535.62 778.99) scale(0.8145 1)" x="0.40" fill="#363636" stroke="#363636">0</text>
<text transform="translate(571.63 778.99) scale(0.7785 1)" x="0.73 19.57" fill="#363636" stroke="#363636">12</text>
<text transform="translate(626.08 778.99) scale(0.8145 1)" x="0.40" fill="#363636" stroke="#363636">0</text>
<text transform="translate(671.31 778.99) scale(0.8145 1)" x="0.40" fill="#363636" stroke="#363636">0</text>
<text transform="translate(716.54 778.99) scale(0.8145 1)" x="0.40" fill="#363636" stroke="#363636">0</text>
<text transform="translate(761.77 778.99) scale(0.8145 1)" x="0.40" fill="#363636" stroke="#363636">0</text>
<text transform="translate(807.00 778.99) scale(0.8145 1)" x="0.40" fill="#363636" stroke="#363636">0</text>
<text transform="translate(835.60 778.99) scale(0.8096 1)" x="0.46 18.77 37.08" fill="#ffffff">390</text>
<text transform="translate(897.46 778.99) scale(0.8145 1)" x="0.40" fill="#363636" stroke="#363636">0</text>
<text transform="translate(942.69 778.99) scale(0.8145 1)" x="0.40" fill="#363636" stroke="#363636">0</text>
<text transform="translate(987.92 778.99) scale(0.8145 1)" x="0.40" fill="#363636" stroke="#363636">0</text>
<text transform="translate(1023.94 778.99) scale(0.8366 1)" x="0.17 17.94" fill="#363636" stroke="#363636">96</text>
<text transform="translate(1078.38 778.99) scale(0.8145 1)" x="0.40" fill="#363636" stroke="#363636">0</text>
<text transform="translate(1123.61 778.99) scale(0.8145 1)" x="0.40" fill="#363636" stroke="#363636">0</text>
<text transform="translate(1168.84 778.99) scale(0.8145 1)" x="0.40" fill="#363636" stroke="#363636">0</text>
<text transform="translate(1214.07 778.99) scale(0.7827 1)" x="0.48" fill="#363636" stroke="#363636">2</text>
<text transform="translate(219.00 828.40) scale(0.8145 1)" x="0.40" fill="#363636" stroke="#363636">0</text>
<text transform="translate(264.23 828.40) scale(0.8145 1)" x="0.40" fill="#363636" stroke="#363636">0</text>
<text transform="translate(309.46 828.40) scale(0.8145 1)" x="0.40" fill="#363636" stroke="#363636">0</text>
<text transform="translate(354.69 828.40) scale(0.8145 1)" x="0.40" fill="#363636" stroke="#363636">0</text>
<text transform="translate(399.92 828.40) scale(0.8145 1)" x="0.40" fill="#363636" stroke="#363636">0</text>
<text transform="translate(428.53 828.40) scale(0.8091 1)" x="0.62 18.79 37.11" fill="#ffffff">470</text>
<text transform="translate(490.39 828.40) scale(0.7823 1)" x="0.78" fill="#363636" stroke="#363636">3</text>
<text transform="translate(535.62 828.40) scale(0.8145 1)" x="0.40" fill="#363636" stroke="#363636">0</text>
<text transform="translate(580.85 828.40) scale(0.8145 1)" x="0.40" fill="#363636" stroke="#363636">0</text>
<text transform="translate(626.08 828.40) scale(0.8145 1)" x="0.40" fill="#363636" stroke="#363636">0</text>
<text transform="translate(671.31 828.40) scale(0.8145 1)" x="0.40" fill="#363636" stroke="#363636">0</text>
<text transform="translate(716.54 828.40) scale(0.8145 1)" x="0.40" fill="#363636" stroke="#363636">0</text>
<text transform="translate(761.77 828.40) scale(0.8145 1)" x="0.40" fill="#363636" stroke="#363636">0</text>
<text transform="translate(807.00 828.40) scale(0.8145 1)" x="0.40" fill="#363636" stroke="#363636">0</text>
<text transform="translate(852.23 828.40) scale(0.8145 1)" x="0.40" fill="#363636" stroke="#363636">0</text>
<text transform="translate(897.46 828.40) scale(0.7742 1)" x="0.80" fill="#363636" stroke="#363636">5</text>
<text transform="translate(942.69 828.40) scale(0.8145 1)" x="0.40" fill="#363636" stroke="#363636">0</text>
<text transform="translate(971.30 828.40) scale(0.8100 1)" x="0.17 18.76 37.06" fill="#363636" stroke="#363636">208</text>
<text transform="translate(1033.15 828.40) scale(0.8145 1)" x="0.40" fill="#363636" stroke="#363636">0</text>
<text transform="translate(1078.38 828.40) scale(0.8145 1)" x="0.40" fill="#363636" stroke="#363636">0</text>
<text transform="translate(1123.61 828.40) scale(0.8145 1)" x="0.40" fill="#363636" stroke="#363636">0</text>
<text transform="translate(1168.84 828.40) scale(0.8145 1)" x="0.40" fill="#363636" stroke="#363636">0</text>
<text transform="translate(1214.07 828.40) scale(0.8145 1)" x="0.40" fill="#363636" stroke="#363636">0</text>
<text transform="translate(219.00 877.82) scale(0.8145 1)" x="0.40" fill="#363636" stroke="#363636">0</text>
<text transform="translate(264.23 877.82) scale(0.8145 1)" x="0.40" fill="#363636" stroke="#363636">0</text>
<text transform="translate(300.25 877.82) scale(0.8028 1)" x="0.47 19.00" fill="#363636" stroke="#363636">58</text>
<text transform="translate(354.69 877.82) scale(0.8145 1)" x="0.40" fill="#363636" stroke="#363636">0</text>
<text transform="translate(399.92 877.82) scale(0.8145 1)" x="0.40" fill="#363636" stroke="#363636">0</text>
<text transform="translate(445.16 877.82) scale(0.8145 1)" x="0.40" fill="#363636" stroke="#363636">0</text>
<text transform="translate(490.39 877.82) scale(0.8145 1)" x="0.40" fill="#363636" stroke="#363636">0</text>
<text transform="translate(535.62 877.82) scale(0.8145 1)" x="0.40" fill="#363636" stroke="#363636">0</text>
<text transform="translate(564.22 877.82) scale(0.8117 1)" x="0.60 18.76 36.97" fill="#ffffff">463</text>
<text transform="translate(626.08 877.82) scale(0.8145 1)" x="0.40" fill="#363636" stroke="#363636">0</text>
<text transform="translate(671.31 877.82) scale(0.8145 1)" x="0.40" fill="#363636" stroke="#363636">0</text>
<text transform="translate(716.54 877.82) scale(0.8145 1)" x="0.40" fill="#363636" stroke="#363636">0</text>
<text transform="translate(761.77 877.82) scale(0.8145 1)" x="0.40" fill="#363636" stroke="#363636">0</text>
<text transform="translate(807.00 877.82) scale(0.8145 1)" x="0.40" fill="#363636" stroke="#363636">0</text>
<text transform="translate(852.23 877.82) scale(0.8145 1)" x="0.40" fill="#363636" stroke="#363636">0</text>
<text transform="translate(897.46 877.82) scale(0.8145 1)" x="0.40" fill="#363636" stroke="#363636">0</text>
<text transform="translate(933.48 877.82) scale(0.8408 1)" x="0.18 17.81" fill="#363636" stroke="#363636">66</text>
<text transform="translate(987.92 877.82) scale(0.8145 1)" x="0.40" fill="#363636" stroke="#363636">0</text>
<text transform="translate(1033.15 877.82) scale(0.8145 1)" x="0.40" fill="#363636" stroke="#363636">0</text>
<text transform="translate(1078.38 877.82) scale(0.8145 1)" x="0.40" fill="#363636" stroke="#363636">0</text>
<text transform="translate(1123.61 877.82) scale(0.8145 1)" x="0.40" fill="#363636" stroke="#363636">0</text>
<text transform="translate(1168.84 877.82) scale(0.8145 1)" x="0.40" fill="#363636" stroke="#363636">0</text>
<text transform="translate(1204.86 877.82) scale(0.7872 1)" x="0.72 19.46" fill="#363636" stroke="#363636">71</text>
<text transform="translate(219.00 927.23) scale(0.8145 1)" x="0.40" fill="#363636" stroke="#363636">0</text>
<text transform="translate(264.23 927.23) scale(0.8145 1)" x="0.40" fill="#363636" stroke="#363636">0</text>
<text transform="translate(309.46 927.23) scale(0.7823 1)" x="0.78" fill="#363636" stroke="#363636">3</text>
<text transform="translate(354.69 927.23) scale(0.8145 1)" x="0.40" fill="#363636" stroke="#363636">0</text>
<text transform="translate(399.92 927.23) scale(0.8145 1)" x="0.40" fill="#363636" stroke="#363636">0</text>
<text transform="translate(445.16 927.23) scale(0.7742 1)" x="0.79" fill="#363636" stroke="#363636">1</text>
<text transform="translate(490.39 927.23) scale(0.8145 1)" x="0.40" fill="#363636" stroke="#363636">0</text>
<text transform="translate(526.40 927.23) scale(0.7742 1)" x="0.79 19.94" fill="#363636" stroke="#363636">11</text>
<text transform="translate(580.85 927.23) scale(0.7742 1)" x="0.79" fill="#363636" stroke="#363636">1</text>
<text transform="translate(626.08 927.23) scale(0.8145 1)" x="0.40" fill="#363636" stroke="#363636">0</text>
<text transform="translate(671.31 927.23) scale(0.8145 1)" x="0.40" fill="#363636" stroke="#363636">0</text>
<text transform="translate(716.54 927.23) scale(0.7823 1)" x="0.78" fill="#363636" stroke="#363636">3</text>
<text transform="translate(761.77 927.23) scale(0.8145 1)" x="0.40" fill="#363636" stroke="#363636">0</text>
<text transform="translate(807.00 927.23) scale(0.8145 1)" x="0.40" fill="#363636" stroke="#363636">0</text>
<text transform="translate(852.23 927.23) scale(0.8145 1)" x="0.40" fill="#363636" stroke="#363636">0</text>
<text transform="translate(897.46 927.23) scale(0.8145 1)" x="0.40" fill="#363636" stroke="#363636">0</text>
<text transform="translate(942.69 927.23) scale(0.8145 1)" x="0.40" fill="#363636" stroke="#363636">0</text>
<text transform="translate(971.30 927.23) scale(0.7964 1)" x="0.77 19.23 37.74" fill="#ffffff">471</text>
<text transform="translate(1023.94 927.23) scale(0.8076 1)" x="0.20 18.83" fill="#363636" stroke="#363636">28</text>
<text transform="translate(1078.38 927.23) scale(0.8145 1)" x="0.40" fill="#363636" stroke="#363636">0</text>
<text transform="translate(1106.99 927.23) scale(0.7857 1)" x="0.64 19.61 38.18" fill="#363636" stroke="#363636">172</text>
<text transform="translate(1168.84 927.23) scale(0.8145 1)" x="0.40" fill="#363636" stroke="#363636">0</text>
<text transform="translate(1214.07 927.23) scale(0.8145 1)" x="0.40" fill="#363636" stroke="#363636">0</text>
<text transform="translate(219.00 976.64) scale(0.8145 1)" x="0.40" fill="#363636" stroke="#363636">0</text>
<text transform="translate(264.23 976.64) scale(0.8145 1)" x="0.40" fill="#363636" stroke="#363636">0</text>
<text transform="translate(309.46 976.64) scale(0.8145 1)" x="0.40" fill="#363636" stroke="#363636">0</text>
<text transform="translate(354.69 976.64) scale(0.8145 1)" x="0.40" fill="#363636" stroke="#363636">0</text>
<text transform="translate(399.92 976.64) scale(0.8145 1)" x="0.40" fill="#363636" stroke="#363636">0</text>
<text transform="translate(445.16 976.64) scale(0.8145 1)" x="0.40" fill="#363636" stroke="#363636">0</text>
<text transform="translate(490.39 976.64) scale(0.8145 1)" x="0.40" fill="#363636" stroke="#363636">0</text>
<text transform="translate(535.62 976.64) scale(0.8145 1)" x="0.40" fill="#363636" stroke="#363636">0</text>
<text transform="translate(580.85 976.64) scale(0.8145 1)" x="0.40" fill="#363636" stroke="#363636">0</text>
<text transform="translate(626.08 976.64) scale(0.8145 1)" x="0.40" fill="#363636" stroke="#363636">0</text>
<text transform="translate(671.31 976.64) scale(0.8145 1)" x="0.40" fill="#363636" stroke="#363636">0</text>
<text transform="translate(716.54 976.64) scale(0.8145 1)" x="0.40" fill="#363636" stroke="#363636">0</text>
<text transform="translate(761.77 976.64) scale(0.8145 1)" x="0.40" fill="#363636" stroke="#363636">0</text>
<text transform="translate(807.00 976.64) scale(0.8145 1)" x="0.40" fill="#363636" stroke="#363636">0</text>
<text transform="translate(852.23 976.64) scale(0.8145 1)" x="0.40" fill="#363636" stroke="#363636">0</text>
<text transform="translate(897.46 976.64) scale(0.8145 1)" x="0.40" fill="#363636" stroke="#363636">0</text>
<text transform="translate(942.69 976.64) scale(0.8145 1)" x="0.40" fill="#363636" stroke="#363636">0</text>
<text transform="translate(987.92 976.64) scale(0.8145 1)" x="0.40" fill="#363636" stroke="#363636">0</text>
<text transform="translate(1016.53 976.64) scale(0.8245 1)" x="0.36 18.28 36.26" fill="#ffffff">679</text>
<text transform="translate(1078.38 976.64) scale(0.8145 1)" x="0.40" fill="#363636" stroke="#363636">0</text>
<text transform="translate(1123.61 976.64) scale(0.8145 1)" x="0.40" fill="#363636" stroke="#363636">0</text>
<text transform="translate(1168.84 976.64) scale(0.8145 1)" x="0.40" fill="#363636" stroke="#363636">0</text>
<text transform="translate(1214.07 976.64) scale(0.8145 1)" x="0.40" fill="#363636" stroke="#363636">0</text>
<text transform="translate(219.00 1026.05) scale(0.8145 1)" x="0.40" fill="#363636" stroke="#363636">0</text>
<text transform="translate(264.23 1026.05) scale(0.8145 1)" x="0.40" fill="#363636" stroke="#363636">0</text>
<text transform="translate(309.46 1026.05) scale(0.8145 1)" x="0.40" fill="#363636" stroke="#363636">0</text>
<text transform="translate(354.69 1026.05) scale(0.8145 1)" x="0.40" fill="#363636" stroke="#363636">0</text>
<text transform="translate(399.92 1026.05) scale(0.8145 1)" x="0.40" fill="#363636" stroke="#363636">0</text>
<text transform="translate(445.16 1026.05) scale(0.8145 1)" x="0.40" fill="#363636" stroke="#363636">0</text>
<text transform="translate(490.39 1026.05) scale(0.8145 1)" x="0.40" fill="#363636" stroke="#363636">0</text>
<text transform="translate(535.62 1026.05) scale(0.8145 1)" x="0.40" fill="#363636" stroke="#363636">0</text>
<text transform="translate(580.85 1026.05) scale(0.8145 1)" x="0.40" fill="#363636" stroke="#363636">0</text>
<text transform="translate(626.08 1026.05) scale(0.8145 1)" x="0.40" fill="#363636" stroke="#363636">0</text>
<text transform="translate(671.31 1026.05) scale(0.8145 1)" x="0.40" fill="#363636" stroke="#363636">0</text>
<text transform="translate(716.54 1026.05) scale(0.8145 1)" x="0.40" fill="#363636" stroke="#363636">0</text>
<text transform="translate(761.77 1026.05) scale(0.8145 1)" x="0.40" fill="#363636" stroke="#363636">0</text>
<text transform="translate(807.00 1026.05) scale(0.8145 1)" x="0.40" fill="#363636" stroke="#363636">0</text>
<text transform="translate(852.23 1026.05) scale(0.8145 1)" x="0.40" fill="#363636" stroke="#363636">0</text>
<text transform="translate(897.46 1026.05) scale(0.8145 1)" x="0.40" fill="#363636" stroke="#363636">0</text>
<text transform="translate(942.69 1026.05) scale(0.8145 1)" x="0.40" fill="#363636" stroke="#363636">0</text>
<text transform="translate(987.92 1026.05) scale(0.8145 1)" x="0.40" fill="#363636" stroke="#363636">0</text>
<text transform="translate(1033.15 1026.05) scale(0.8145 1)" x="0.40" fill="#363636" stroke="#363636">0</text>
<text transform="translate(1061.76 1026.05) scale(0.8187 1)" x="0.42 18.46 36.29" fill="#ffffff">682</text>
<text transform="translate(1123.61 1026.05) scale(0.8145 1)" x="0.40" fill="#363636" stroke="#363636">0</text>
<text transform="translate(1168.84 1026.05) scale(0.8145 1)" x="0.40" fill="#363636" stroke="#363636">0</text>
<text transform="translate(1214.07 1026.05) scale(0.8145 1)" x="0.40" fill="#363636" stroke="#363636">0</text>
<text transform="translate(219.00 1075.47) scale(0.8145 1)" x="0.40" fill="#363636" stroke="#363636">0</text>
<text transform="translate(264.23 1075.47) scale(0.8145 1)" x="0.40" fill="#363636" stroke="#363636">0</text>
<text transform="translate(309.46 1075.47) scale(0.7823 1)" x="0.78" fill="#363636" stroke="#363636">3</text>
<text transform="translate(354.69 1075.47) scale(0.8145 1)" x="0.40" fill="#363636" stroke="#363636">0</text>
<text transform="translate(399.92 1075.47) scale(0.8145 1)" x="0.40" fill="#363636" stroke="#363636">0</text>
<text transform="translate(445.16 1075.47) scale(0.8145 1)" x="0.40" fill="#363636" stroke="#363636">0</text>
<text transform="translate(490.39 1075.47) scale(0.8145 1)" x="0.40" fill="#363636" stroke="#363636">0</text>
<text transform="translate(535.62 1075.47) scale(0.8145 1)" x="0.40" fill="#363636" stroke="#363636">0</text>
<text transform="translate(580.85 1075.47) scale(0.7827 1)" x="0.48" fill="#363636" stroke="#363636">2</text>
<text transform="translate(626.08 1075.47) scale(0.8145 1)" x="0.40" fill="#363636" stroke="#363636">0</text>
<text transform="translate(671.31 1075.47) scale(0.8145 1)" x="0.40" fill="#363636" stroke="#363636">0</text>
<text transform="translate(716.54 1075.47) scale(0.8145 1)" x="0.40" fill="#363636" stroke="#363636">0</text>
<text transform="translate(761.77 1075.47) scale(0.8145 1)" x="0.40" fill="#363636" stroke="#363636">0</text>
<text transform="translate(807.00 1075.47) scale(0.8145 1)" x="0.40" fill="#363636" stroke="#363636">0</text>
<text transform="translate(852.23 1075.47) scale(0.8145 1)" x="0.40" fill="#363636" stroke="#363636">0</text>
<text transform="translate(897.46 1075.47) scale(0.8145 1)" x="0.40" fill="#363636" stroke="#363636">0</text>
<text transform="translate(942.69 1075.47) scale(0.8145 1)" x="0.40" fill="#363636" stroke="#363636">0</text>
<text transform="translate(987.92 1075.47) scale(0.8145 1)" x="0.40" fill="#363636" stroke="#363636">0</text>
<text transform="translate(1016.53 1075.47) scale(0.7966 1)" x="0.61 19.22 37.73" fill="#ffffff">381</text>
<text transform="translate(1078.38 1075.47) scale(0.8145 1)" x="0.40" fill="#363636" stroke="#363636">0</text>
<text transform="translate(1106.99 1075.47) scale(0.7970 1)" x="0.31 19.21 37.71" fill="#363636" stroke="#363636">291</text>
<text transform="translate(1168.84 1075.47) scale(0.8145 1)" x="0.40" fill="#363636" stroke="#363636">0</text>
<text transform="translate(1214.07 1075.47) scale(0.8145 1)" x="0.40" fill="#363636" stroke="#363636">0</text>
<text transform="translate(219.00 1124.88) scale(0.8145 1)" x="0.40" fill="#363636" stroke="#363636">0</text>
<text transform="translate(255.02 1124.88) scale(0.8041 1)" x="0.42 18.96" fill="#363636" stroke="#363636">18</text>
<text transform="translate(292.84 1124.88) scale(0.7933 1)" x="0.36 19.04 38.18" fill="#363636" stroke="#363636">224</text>
<text transform="translate(354.69 1124.88) scale(0.8145 1)" x="0.40" fill="#363636" stroke="#363636">0</text>
<text transform="translate(399.92 1124.88) scale(0.8145 1)" x="0.40" fill="#363636" stroke="#363636">0</text>
<text transform="translate(445.16 1124.88) scale(0.8145 1)" x="0.40" fill="#363636" stroke="#363636">0</text>
<text transform="translate(490.39 1124.88) scale(0.8145 1)" x="0.40" fill="#363636" stroke="#363636">0</text>
<text transform="translate(535.62 1124.88) scale(0.7742 1)" x="0.79" fill="#363636" stroke="#363636">1</text>
<text transform="translate(580.85 1124.88) scale(0.7827 1)" x="0.48" fill="#363636" stroke="#363636">2</text>
<text transform="translate(626.08 1124.88) scale(0.8145 1)" x="0.40" fill="#363636" stroke="#363636">0</text>
<text transform="translate(671.31 1124.88) scale(0.7827 1)" x="0.48" fill="#363636" stroke="#363636">2</text>
<text transform="translate(716.54 1124.88) scale(0.8318 1)" x="0.21" fill="#363636" stroke="#363636">8</text>
<text transform="translate(761.77 1124.88) scale(0.8145 1)" x="0.40" fill="#363636" stroke="#363636">0</text>
<text transform="translate(807.00 1124.88) scale(0.8145 1)" x="0.40" fill="#363636" stroke="#363636">0</text>
<text transform="translate(835.60 1124.88) scale(0.7995 1)" x="0.48 19.12 37.73" fill="#363636" stroke="#363636">136</text>
<text transform="translate(897.46 1124.88) scale(0.7827 1)" x="0.48" fill="#363636" stroke="#363636">2</text>
<text transform="translate(926.07 1124.88) scale(0.7882 1)" x="0.61 19.42 38.48" fill="#363636" stroke="#363636">114</text>
<text transform="translate(987.92 1124.88) scale(0.7742 1)" x="0.79" fill="#363636" stroke="#363636">1</text>
<text transform="translate(1033.15 1124.88) scale(0.7742 1)" x="0.80" fill="#363636" stroke="#363636">5</text>
<text transform="translate(1078.38 1124.88) scale(0.8145 1)" x="0.40" fill="#363636" stroke="#363636">0</text>
<text transform="translate(1123.61 1124.88) scale(0.8145 1)" x="0.40" fill="#363636" stroke="#363636">0</text>
<text transform="translate(1159.63 1124.88) scale(0.8064 1)" x="0.50 19.04" fill="#363636" stroke="#363636">74</text>
<text transform="translate(1204.86 1124.88) scale(0.8218 1)" x="0.32 18.52" fill="#363636" stroke="#363636">84</text>
<text transform="translate(219.00 1174.29) scale(0.8145 1)" x="0.40" fill="#363636" stroke="#363636">0</text>
<text transform="translate(264.23 1174.29) scale(0.8145 1)" x="0.40" fill="#363636" stroke="#363636">0</text>
<text transform="translate(309.46 1174.29) scale(0.8145 1)" x="0.40" fill="#363636" stroke="#363636">0</text>
<text transform="translate(354.69 1174.29) scale(0.8145 1)" x="0.40" fill="#363636" stroke="#363636">0</text>
<text transform="translate(399.92 1174.29) scale(0.8145 1)" x="0.40" fill="#363636" stroke="#363636">0</text>
<text transform="translate(445.16 1174.29) scale(0.8145 1)" x="0.40" fill="#363636" stroke="#363636">0</text>
<text transform="translate(490.39 1174.29) scale(0.8145 1)" x="0.40" fill="#363636" stroke="#363636">0</text>
<text transform="translate(535.62 1174.29) scale(0.8145 1)" x="0.40" fill="#363636" stroke="#363636">0</text>
<text transform="translate(571.63 1174.29) scale(0.8078 1)" x="0.19 18.83" fill="#363636" stroke="#363636">29</text>
<text transform="translate(626.08 1174.29) scale(0.8145 1)" x="0.40" fill="#363636" stroke="#363636">0</text>
<text transform="translate(671.31 1174.29) scale(0.8145 1)" x="0.40" fill="#363636" stroke="#363636">0</text>
<text transform="translate(716.54 1174.29) scale(0.8145 1)" x="0.40" fill="#363636" stroke="#363636">0</text>
<text transform="translate(761.77 1174.29) scale(0.8145 1)" x="0.40" fill="#363636" stroke="#363636">0</text>
<text transform="translate(807.00 1174.29) scale(0.8145 1)" x="0.40" fill="#363636" stroke="#363636">0</text>
<text transform="translate(852.23 1174.29) scale(0.8145 1)" x="0.40" fill="#363636" stroke="#363636">0</text>
<text transform="translate(897.46 1174.29) scale(0.8145 1)" x="0.40" fill="#363636" stroke="#363636">0</text>
<text transform="translate(942.69 1174.29) scale(0.8145 1)" x="0.40" fill="#363636" stroke="#363636">0</text>
<text transform="translate(987.92 1174.29) scale(0.8145 1)" x="0.40" fill="#363636" stroke="#363636">0</text>
<text transform="translate(1033.15 1174.29) scale(0.8145 1)" x="0.40" fill="#363636" stroke="#363636">0</text>
<text transform="translate(1078.38 1174.29) scale(0.8145 1)" x="0.40" fill="#363636" stroke="#363636">0</text>
<text transform="translate(1123.61 1174.29) scale(0.8145 1)" x="0.40" fill="#363636" stroke="#363636">0</text>
<text transform="translate(1168.84 1174.29) scale(0.8145 1)" x="0.40" fill="#363636" stroke="#363636">0</text>
<text transform="translate(1197.45 1174.29) scale(0.8123 1)" x="0.49 18.68 36.93" fill="#ffffff">630</text>
</g>
<g font-size="30.5" fill="#0d0d0d" stroke="#0d0d0d" stroke-width="0.5">
<text transform="translate(129.21 87.41) scale(0.7745 1)" x="1.18 18.60 37.64 55.13">back</text>
<text transform="translate(82.54 136.82) scale(0.8374 1)" x="0.69 26.85 44.53 52.72 62.88 70.23 87.33 104.46">multihop</text>
<text transform="translate(48.41 186.23) scale(0.8037 1)" x="0.67 8.35 24.82 43.71 62.75 89.77 107.51 125.80 144.09 151.93">loadmodule</text>
<text transform="translate(134.20 235.65) scale(0.7711 1)" x="0.86 8.01 27.97 46.82">land</text>
<text transform="translate(3.41 285.06) scale(0.8393 1)" x="0.44 17.87 36.08 45.84 54.48 72.47 81.20 96.66 114.12 130.18 148.17 159.34 168.72 175.96 193.10">buffer_overflow</text>
<text transform="translate(64.14 334.47) scale(0.8148 1)" x="0.56 17.98 36.21 47.72 57.42 72.54 95.42 112.69 130.20">portsweep</text>
<text transform="translate(119.16 383.88) scale(0.8343 1)" x="-0.39 14.56 40.40 58.43 69.34">smurf</text>
<text transform="translate(127.44 433.30) scale(0.7798 1)" x="0.73 9.67 35.91 55.33">imap</text>
<text transform="translate(88.94 482.71) scale(0.8329 1)" x="0.35 17.60 34.76 52.95 62.86 80.45 97.70">neptune</text>
<text transform="translate(141.03 532.12) scale(0.8144 1)" x="0.62 18.15 35.59">pod</text>
<text transform="translate(86.73 581.54) scale(0.8246 1)" x="1.11 11.00 26.76 45.85 56.30 74.26 84.53 101.20">teardrop</text>
<text transform="translate(104.24 630.95) scale(0.8024 1)" x="0.65 18.34 36.79 48.39 73.60 92.49">normal</text>
<text transform="translate(146.82 680.36) scale(0.7337 1)" x="0.20 16.18 34.70">spy</text>
<text transform="translate(85.05 729.78) scale(0.8238 1)" x="0.87 10.79 20.39 35.91 51.42 74.86 85.60 93.84 103.69">ftp_write</text>
<text transform="translate(141.41 779.19) scale(0.8116 1)" x="0.29 17.36 35.09 45.74">perl</text>
<text transform="translate(119.04 828.60) scale(0.7904 1)" x="0.79 19.76 45.80 65.05">nmap</text>
<text transform="translate(120.94 878.02) scale(0.7492 1)" x="0.53 15.66 36.26 46.31 66.53">satan</text>
<text transform="translate(88.39 927.43) scale(0.8022 1)" x="0.71 8.95 26.65 42.41 66.01 83.87 102.01">ipsweep</text>
<text transform="translate(20.44 976.84) scale(0.7527 1)" x="1.03 20.38 39.55 57.71 73.53 87.98 105.37 123.05 142.43 158.25 174.89 199.44">guess_passwd</text>
<text transform="translate(53.28 1026.25) scale(0.8001 1)" x="0.64 22.72 42.43 53.36 69.86 84.90 101.38 109.35 117.17 135.03 153.82">warezclient</text>
<text transform="translate(108.20 1075.67) scale(0.8903 1)" x="0.77 10.41 25.91 43.21 52.78 68.20 76.02">rootkit</text>
<text transform="translate(147.88 1125.08) scale(0.8440 1)" x="0.08 16.88 34.47">phf</text>
<text transform="translate(34.98 1174.49) scale(0.8031 1)" x="0.62 22.68 42.38 53.30 69.78 86.16 112.01 130.39 146.59 157.01 175.52">warezmaster</text>
</g>
<g stroke="#1a1a1a" stroke-width="2.3">
<line x1="194.20" y1="79.61" x2="202.30" y2="79.61"/>
<line x1="194.20" y1="129.02" x2="202.30" y2="129.02"/>
<line x1="194.20" y1="178.43" x2="202.30" y2="178.43"/>
<line x1="194.20" y1="227.85" x2="202.30" y2="227.85"/>
<line x1="194.20" y1="277.26" x2="202.30" y2="277.26"/>
<line x1="194.20" y1="326.67" x2="202.30" y2="326.67"/>
<line x1="194.20" y1="376.08" x2="202.30" y2="376.08"/>
<line x1="194.20" y1="425.50" x2="202.30" y2="425.50"/>
<line x1="194.20" y1="474.91" x2="202.30" y2="474.91"/>
<line x1="194.20" y1="524.32" x2="202.30" y2="524.32"/>
<line x1="194.20" y1="573.74" x2="202.30" y2="573.74"/>
<line x1="194.20" y1="623.15" x2="202.30" y2="623.15"/>
<line x1="194.20" y1="672.56" x2="202.30" y2="672.56"/>
<line x1="194.20" y1="721.98" x2="202.30" y2="721.98"/>
<line x1="194.20" y1="771.39" x2="202.30" y2="771.39"/>
<line x1="194.20" y1="820.80" x2="202.30" y2="820.80"/>
<line x1="194.20" y1="870.22" x2="202.30" y2="870.22"/>
<line x1="194.20" y1="919.63" x2="202.30" y2="919.63"/>
<line x1="194.20" y1="969.04" x2="202.30" y2="969.04"/>
<line x1="194.20" y1="1018.45" x2="202.30" y2="1018.45"/>
<line x1="194.20" y1="1067.87" x2="202.30" y2="1067.87"/>
<line x1="194.20" y1="1117.28" x2="202.30" y2="1117.28"/>
<line x1="194.20" y1="1166.69" x2="202.30" y2="1166.69"/>
<line x1="224.90" y1="1190.20" x2="224.90" y2="1202.00"/>
<line x1="270.21" y1="1190.20" x2="270.21" y2="1202.00"/>
<line x1="315.52" y1="1190.20" x2="315.52" y2="1202.00"/>
<line x1="360.83" y1="1190.20" x2="360.83" y2="1202.00"/>
<line x1="406.14" y1="1190.20" x2="406.14" y2="1202.00"/>
<line x1="451.45" y1="1190.20" x2="451.45" y2="1202.00"/>
<line x1="496.76" y1="1190.20" x2="496.76" y2="1202.00"/>
<line x1="542.07" y1="1190.20" x2="542.07" y2="1202.00"/>
<line x1="587.38" y1="1190.20" x2="587.38" y2="1202.00"/>
<line x1="632.69" y1="1190.20" x2="632.69" y2="1202.00"/>
<line x1="678.00" y1="1190.20" x2="678.00" y2="1202.00"/>
<line x1="723.31" y1="1190.20" x2="723.31" y2="1202.00"/>
<line x1="768.62" y1="1190.20" x2="768.62" y2="1202.00"/>
<line x1="813.93" y1="1190.20" x2="813.93" y2="1202.00"/>
<line x1="859.24" y1="1190.20" x2="859.24" y2="1202.00"/>
<line x1="904.55" y1="1190.20" x2="904.55" y2="1202.00"/>
<line x1="949.86" y1="1190.20" x2="949.86" y2="1202.00"/>
<line x1="995.17" y1="1190.20" x2="995.17" y2="1202.00"/>
<line x1="1040.48" y1="1190.20" x2="1040.48" y2="1202.00"/>
<line x1="1085.79" y1="1190.20" x2="1085.79" y2="1202.00"/>
<line x1="1131.10" y1="1190.20" x2="1131.10" y2="1202.00"/>
<line x1="1176.41" y1="1190.20" x2="1176.41" y2="1202.00"/>
<line x1="1221.72" y1="1190.20" x2="1221.72" y2="1202.00"/>
</g>
<g font-size="24.1" fill="#0d0d0d" stroke="#0d0d0d" stroke-width="0.5">
<text transform="translate(232.32 1285.31) rotate(-90) scale(1.2189 1)" x="0.93 14.70 29.74 43.56">back</text>
<text transform="translate(277.55 1344.46) rotate(-90) scale(1.3295 1)" x="0.54 21.22 35.18 41.66 49.68 55.50 69.01 82.54">multihop</text>
<text transform="translate(322.78 1384.20) rotate(-90) scale(1.2530 1)" x="0.53 6.60 19.61 34.53 49.58 70.93 84.95 99.40 113.86 120.05">loadmodule</text>
<text transform="translate(368.01 1279.74) rotate(-90) scale(1.2259 1)" x="0.68 6.33 22.10 37.00">land</text>
<text transform="translate(413.24 1441.15) rotate(-90) scale(1.3173 1)" x="0.35 14.12 28.51 36.22 43.05 57.27 64.16 76.38 90.17 102.86 117.08 125.90 133.32 139.04 152.58">buffer_overflow</text>
<text transform="translate(458.47 1370.07) rotate(-90) scale(1.3154 1)" x="0.44 14.21 28.61 37.71 45.37 57.32 75.40 89.04 102.88">portsweep</text>
<text transform="translate(503.70 1298.62) rotate(-90) scale(1.3262 1)" x="-0.31 11.50 31.92 46.17 54.79">smurf</text>
<text transform="translate(548.93 1289.36) rotate(-90) scale(1.2593 1)" x="0.58 7.64 28.38 43.72">imap</text>
<text transform="translate(594.16 1336.63) rotate(-90) scale(1.3246 1)" x="0.27 13.90 27.47 41.84 49.67 63.57 77.20">neptune</text>
<text transform="translate(639.39 1271.21) rotate(-90) scale(1.2960 1)" x="0.49 14.34 28.13">pod</text>
<text transform="translate(684.62 1339.08) rotate(-90) scale(1.3079 1)" x="0.88 8.69 21.14 36.23 44.49 58.67 66.79 79.96">teardrop</text>
<text transform="translate(729.85 1317.48) rotate(-90) scale(1.2770 1)" x="0.51 14.49 29.07 38.24 58.15 73.08">normal</text>
<text transform="translate(775.08 1265.78) rotate(-90) scale(1.2135 1)" x="0.16 12.78 27.42">spy</text>
<text transform="translate(820.31 1341.97) rotate(-90) scale(1.3148 1)" x="0.69 8.52 16.11 28.37 40.63 59.16 67.64 74.15 81.93">ftp_write</text>
<text transform="translate(865.54 1272.68) rotate(-90) scale(1.3381 1)" x="0.23 13.72 27.73 36.14">perl</text>
<text transform="translate(910.77 1298.51) rotate(-90) scale(1.2525 1)" x="0.62 15.61 36.19 51.40">nmap</text>
<text transform="translate(956.00 1294.69) rotate(-90) scale(1.1657 1)" x="0.42 12.38 28.65 36.59 52.57">satan</text>
<text transform="translate(1001.23 1335.40) rotate(-90) scale(1.2554 1)" x="0.56 7.07 21.06 33.51 52.16 66.27 80.61">ipsweep</text>
<text transform="translate(1046.46 1422.66) rotate(-90) scale(1.1968 1)" x="0.81 16.10 31.25 45.60 58.10 69.52 83.26 97.23 112.54 125.04 138.19 157.59">guess_passwd</text>
<text transform="translate(1091.69 1383.55) rotate(-90) scale(1.2887 1)" x="0.50 17.95 33.53 42.16 55.20 67.09 80.11 86.41 92.58 106.70 121.55">warezclient</text>
<text transform="translate(1136.92 1310.44) rotate(-90) scale(1.3865 1)" x="0.61 8.23 20.47 34.14 41.71 53.89 60.07">rootkit</text>
<text transform="translate(1182.15 1262.93) rotate(-90) scale(1.3527 1)" x="0.06 13.34 27.24">phf</text>
<text transform="translate(1227.38 1404.00) rotate(-90) scale(1.2742 1)" x="0.49 17.92 33.49 42.11 55.14 68.08 88.51 103.03 115.83 124.07 138.69">warezmaster</text>
</g>
<text font-size="39.5" fill="#0d0d0d" stroke="#0d0d0d" stroke-width="0.6" transform="translate(605.28 36.60) scale(0.7416 1)" x="-1.44 26.60 49.92 74.06 86.56 109.55 129.77 139.79 163.11 163.11 197.43 228.97 254.53 269.26 283.66 294.30">Confusion Matrix</text>
<defs><linearGradient id="cbg" x1="0" y1="0" x2="0" y2="1"><stop offset="0.0000" stop-color="#08306b"/><stop offset="0.0312" stop-color="#083776"/><stop offset="0.0625" stop-color="#084082"/><stop offset="0.0938" stop-color="#08488e"/><stop offset="0.1250" stop-color="#08509b"/><stop offset="0.1562" stop-color="#0e58a2"/><stop offset="0.1875" stop-color="#1460a8"/><stop offset="0.2188" stop-color="#1a68ae"/><stop offset="0.2500" stop-color="#2070b4"/><stop offset="0.2812" stop-color="#2979b9"/><stop offset="0.3125" stop-color="#3181bd"/><stop offset="0.3438" stop-color="#3989c1"/><stop offset="0.3750" stop-color="#4191c6"/><stop offset="0.4062" stop-color="#4b98ca"/><stop offset="0.4375" stop-color="#56a0ce"/><stop offset="0.4688" stop-color="#60a7d2"/><stop offset="0.5000" stop-color="#6aaed6"/><stop offset="0.5312" stop-color="#77b5d9"/><stop offset="0.5625" stop-color="#84bcdb"/><stop offset="0.5938" stop-color="#91c3de"/><stop offset="0.6250" stop-color="#9dcae1"/><stop offset="0.6562" stop-color="#a8cee4"/><stop offset="0.6875" stop-color="#b2d2e8"/><stop offset="0.7188" stop-color="#bcd7eb"/><stop offset="0.7500" stop-color="#c6dbef"/><stop offset="0.7812" stop-color="#ccdff1"/><stop offset="0.8125" stop-color="#d2e3f3"/><stop offset="0.8438" stop-color="#d8e7f5"/><stop offset="0.8750" stop-color="#deebf7"/><stop offset="0.9062" stop-color="#e4eff9"/><stop offset="0.9375" stop-color="#eaf3fb"/><stop offset="0.9688" stop-color="#f1f7fd"/><stop offset="1.0000" stop-color="#f7fbff"/></linearGradient></defs>
<rect x="1308.00" y="53.60" width="45.30" height="1136.50" fill="url(#cbg)"/>
<g stroke="#1a1a1a" stroke-width="2.3">
<line x1="1353.30" y1="1190.60" x2="1362.80" y2="1190.60"/>
<line x1="1353.30" y1="1024.45" x2="1362.80" y2="1024.45"/>
<line x1="1353.30" y1="858.29" x2="1362.80" y2="858.29"/>
<line x1="1353.30" y1="692.14" x2="1362.80" y2="692.14"/>
<line x1="1353.30" y1="525.98" x2="1362.80" y2="525.98"/>
<line x1="1353.30" y1="359.83" x2="1362.80" y2="359.83"/>
<line x1="1353.30" y1="193.67" x2="1362.80" y2="193.67"/>
</g>
<g font-size="31" fill="#0d0d0d" stroke="#0d0d0d" stroke-width="0.5">
<text transform="translate(1368.50 1201.30) scale(0.8145 1)" x="0.40">0</text>
<text transform="translate(1368.50 1035.15) scale(0.8019 1)" x="0.45 19.03 37.52">100</text>
<text transform="translate(1368.50 868.99) scale(0.8043 1)" x="0.23 18.95 37.38">200</text>
<text transform="translate(1368.50 702.84) scale(0.8038 1)" x="0.53 18.97 37.41">300</text>
<text transform="translate(1368.50 536.68) scale(0.8138 1)" x="0.57 18.63 36.84">400</text>
<text transform="translate(1368.50 370.53) scale(0.8011 1)" x="0.49 19.06 37.56">500</text>
<text transform="translate(1368.50 204.37) scale(0.8231 1)" x="0.37 18.32 36.33">600</text>
</g>
<rect x="0" y="1353" width="1418" height="6" fill="#ffffff"/>
</svg>
</body></html>
